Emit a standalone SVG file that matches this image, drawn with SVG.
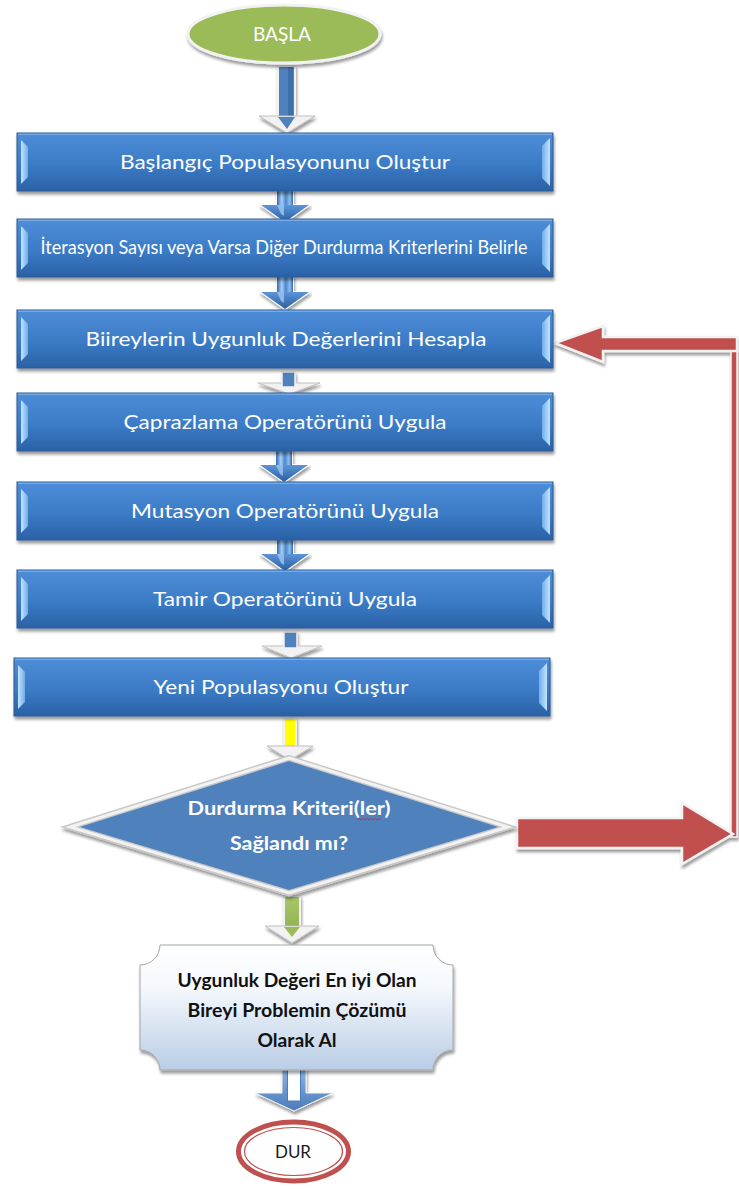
<svg xmlns="http://www.w3.org/2000/svg" width="739" height="1189" viewBox="0 0 739 1189">
<defs>
<style>
.bt{font-family:Lato,"Liberation Sans",sans-serif;fill:#ffffff;text-anchor:middle;font-size:19px}
.dt{font-family:Lato,"Liberation Sans",sans-serif;font-weight:bold;fill:#ffffff;text-anchor:middle;font-size:18px}
.pt{font-family:Lato,"Liberation Sans",sans-serif;font-weight:bold;fill:#111111;text-anchor:middle;font-size:18px}
.red{fill:#C0504D;stroke:#F2F2F2;stroke-width:2.5}
.chev{fill:#F2F2F2;stroke:#BFBFBF;stroke-width:1}
</style>
<linearGradient id="boxGrad" x1="0" y1="0" x2="0" y2="1">
<stop offset="0" stop-color="#4F8DD7"/><stop offset="0.55" stop-color="#3B7BC6"/><stop offset="1" stop-color="#2A61A6"/>
</linearGradient>
<linearGradient id="bevL" x1="0" y1="0" x2="1" y2="0"><stop offset="0" stop-color="#C4E4FF"/><stop offset="1" stop-color="#6FAEEA"/></linearGradient>
<linearGradient id="bevR" x1="1" y1="0" x2="0" y2="0"><stop offset="0" stop-color="#C4E4FF"/><stop offset="1" stop-color="#6FAEEA"/></linearGradient>
<linearGradient id="shaftGrad" x1="0" y1="0" x2="1" y2="0">
<stop offset="0" stop-color="#2E68B0"/><stop offset="0.3" stop-color="#A9D0F5"/><stop offset="0.55" stop-color="#4A86CC"/><stop offset="0.8" stop-color="#8FBFEF"/><stop offset="1" stop-color="#2E68B0"/>
</linearGradient>
<linearGradient id="headGrad" x1="0" y1="0" x2="0" y2="1"><stop offset="0" stop-color="#5C95D8"/><stop offset="1" stop-color="#2A5E9F"/></linearGradient>
<linearGradient id="plaqueGrad" x1="0" y1="0" x2="0" y2="1"><stop offset="0" stop-color="#FFFFFF"/><stop offset="0.35" stop-color="#F4F8FC"/><stop offset="1" stop-color="#B9CDE6"/></linearGradient>
<linearGradient id="greenGrad" x1="0" y1="0" x2="0" y2="1"><stop offset="0" stop-color="#A9C86A"/><stop offset="1" stop-color="#93B451"/></linearGradient>
<linearGradient id="hollowHead" x1="0" y1="0" x2="0" y2="1"><stop offset="0" stop-color="#8EB4E3"/><stop offset="1" stop-color="#4A7CBA"/></linearGradient>
<filter id="sh" x="-5%" y="-20%" width="110%" height="150%">
<feGaussianBlur in="SourceAlpha" stdDeviation="1.5"/><feOffset dx="1" dy="3"/><feComponentTransfer><feFuncA type="linear" slope="0.4"/></feComponentTransfer>
<feMerge><feMergeNode/><feMergeNode in="SourceGraphic"/></feMerge>
</filter>
<g id="box">
<rect x="0" y="0" width="536" height="58" fill="url(#boxGrad)" stroke="#2A5A93" stroke-width="1"/>
<line x1="1" y1="1.2" x2="535" y2="1.2" stroke="#86B8EE" stroke-width="1"/>
<polygon points="4,7 11,14 11,44 4,51" fill="url(#bevL)"/>
<polygon points="533,5 525,13 525,45 533,53" fill="url(#bevR)"/>
</g>
<g id="blueArrow">
<polygon points="-8,0 8,0 8,16 24,16 0,33 -24,16 -8,16" fill="none" stroke="#FFFFFF" stroke-width="2"/>
<rect x="-8" y="0" width="16" height="16" fill="url(#shaftGrad)"/>
<polygon points="-24,16 24,16 0,33" fill="url(#headGrad)"/>
<polygon points="-8,16 -1,16 -1,27 -4,25" fill="#9CC7F2" opacity="0.8"/>
</g>
</defs>

<g id="connectors">
<g filter="url(#sh)">
<rect x="278" y="66" width="17" height="51" fill="#4F81BD" stroke="#F2F2F2" stroke-width="2"/>
<rect x="288" y="67" width="5" height="49" fill="#3E6FA8"/>
<polygon points="259,116 315,116 287,133" class="chev"/>
<polygon points="278,117 295,117 287,129" fill="#4F81BD"/>
</g>
<use href="#blueArrow" x="285" y="189" filter="url(#sh)"/>
<use href="#blueArrow" x="285" y="276" filter="url(#sh)"/>
<g filter="url(#sh)">
<polygon points="258,383 320,383 289,394" class="chev"/>
<rect x="282" y="372" width="13" height="15" fill="#4F81BD" stroke="#F2F2F2" stroke-width="1.5"/>
</g>
<use href="#blueArrow" x="284" y="449" filter="url(#sh)"/>
<use href="#blueArrow" x="285" y="538" filter="url(#sh)"/>
<g filter="url(#sh)">
<polygon points="262,646 322,646 291,658" class="chev"/>
<rect x="284" y="632" width="13" height="16" fill="#4F81BD" stroke="#F2F2F2" stroke-width="1.5"/>
</g>
<g filter="url(#sh)">
<rect x="284" y="718" width="12" height="29" fill="#FFFF00" stroke="#F2F2F2" stroke-width="2"/>
<polygon points="267,746 313,746 290,760" class="chev"/>
</g>
<g filter="url(#sh)">
<rect x="284" y="896" width="16" height="31" fill="url(#greenGrad)" stroke="#F2F2F2" stroke-width="2"/>
<polygon points="265,926 319,926 292,943" class="chev"/>
<polygon points="284,927 300,927 292,937" fill="#9BBB59"/>
</g>
<g filter="url(#sh)">
<polygon points="282,1067 306,1067 306,1093 333,1093 294,1111 255,1093 282,1093" fill="url(#hollowHead)" stroke="#F2F2F2" stroke-width="1"/>
<rect x="287.5" y="1069" width="13" height="32" fill="#FFFFFF" stroke="#4A7CBA" stroke-width="1"/>
</g>
<g filter="url(#sh)">
<rect x="731" y="337" width="6" height="500" fill="#C0504D" stroke="#F2F2F2" stroke-width="1.5"/>
<polygon class="red" points="555,343 603,326 603,337 737,337 737,351 603,351 603,362"/>
<polygon class="red" points="517,818 682,818 682,803 733,834 682,864 682,848 517,848"/>
</g>
</g>

<g id="n0">
<ellipse cx="284" cy="34" rx="96" ry="29" fill="#9BBB59" stroke="#F2F2F2" stroke-width="3" filter="url(#sh)"/>
<text x="282" y="41" font-family="Lato,'Liberation Sans',sans-serif" font-size="20" fill="#FFFFFF" text-anchor="middle" textLength="58" lengthAdjust="spacingAndGlyphs">BAŞLA</text>
</g>

<g id="n1">
<use href="#box" x="17" y="133" filter="url(#sh)"/>
<text class="bt" x="285" y="169" textLength="330" lengthAdjust="spacingAndGlyphs">Başlangıç Populasyonunu Oluştur</text>
</g>
<g id="n2">
<use href="#box" x="17" y="219" filter="url(#sh)"/>
<text class="bt" x="284" y="254" font-size="16" textLength="487" lengthAdjust="spacingAndGlyphs">İterasyon Sayısı veya Varsa Diğer Durdurma Kriterlerini Belirle</text>
</g>
<g id="n3">
<use href="#box" x="17" y="310" filter="url(#sh)"/>
<text class="bt" x="286" y="346" textLength="401" lengthAdjust="spacingAndGlyphs">Biireylerin Uygunluk Değerlerini Hesapla</text>
</g>
<g id="n4">
<use href="#box" x="17" y="393" filter="url(#sh)"/>
<text class="bt" x="285" y="429" textLength="323" lengthAdjust="spacingAndGlyphs">Çaprazlama Operatörünü Uygula</text>
</g>
<g id="n5">
<use href="#box" x="17" y="482" filter="url(#sh)"/>
<text class="bt" x="285" y="518" textLength="308" lengthAdjust="spacingAndGlyphs">Mutasyon Operatörünü Uygula</text>
</g>
<g id="n6">
<use href="#box" x="17" y="570" filter="url(#sh)"/>
<text class="bt" x="285" y="606" textLength="264" lengthAdjust="spacingAndGlyphs">Tamir Operatörünü Uygula</text>
</g>
<g id="n7">
<use href="#box" x="14" y="658" filter="url(#sh)"/>
<text class="bt" x="281" y="694" textLength="255" lengthAdjust="spacingAndGlyphs">Yeni Populasyonu Oluştur</text>
</g>

<g id="n8">
<polygon points="289,758 508,827 289,893 70,827" fill="#4F81BD" stroke="#C8C8C8" stroke-width="6" filter="url(#sh)"/>
<polygon points="289,758 508,827 289,893 70,827" fill="none" stroke="#F2F2F2" stroke-width="3"/>
<text class="dt" x="289" y="815" textLength="203" lengthAdjust="spacingAndGlyphs">Durdurma Kriteri(ler)</text>
<text class="dt" x="289" y="850" textLength="118" lengthAdjust="spacingAndGlyphs">Sağlandı mı?</text>
<path d="M357,820 l2,-1.5 l2,1.5 l2,-1.5 l2,1.5 l2,-1.5 l2,1.5 l2,-1.5 l2,1.5 l2,-1.5 l2,1.5 l2,-1.5 l2,1.5" fill="none" stroke="#E02020" stroke-width="0.8"/>
</g>

<g id="n9">
<path d="M160,945 H433 A20,20 0 0 0 453,965 V1050 A20,20 0 0 0 433,1070 H160 A20,20 0 0 0 140,1050 V965 A20,20 0 0 0 160,945 Z" fill="url(#plaqueGrad)" stroke="#A6A6A6" stroke-width="1" filter="url(#sh)"/>
<text class="pt" x="297" y="987" textLength="239" lengthAdjust="spacingAndGlyphs">Uygunluk Değeri En iyi Olan</text>
<text class="pt" x="297" y="1017" textLength="219" lengthAdjust="spacingAndGlyphs">Bireyi Problemin Çözümü</text>
<text class="pt" x="297" y="1047" textLength="79" lengthAdjust="spacingAndGlyphs">Olarak Al</text>
</g>

<g id="n10">
<ellipse cx="293.5" cy="1151.5" rx="55" ry="29.5" fill="#FFFFFF" stroke="#C0504D" stroke-width="5"/>
<ellipse cx="293.5" cy="1151.5" rx="49" ry="24" fill="none" stroke="#C0504D" stroke-width="1.2"/>
<text x="293" y="1158" font-family="Lato,'Liberation Sans',sans-serif" font-size="18" fill="#1A1A1A" text-anchor="middle" textLength="36" lengthAdjust="spacingAndGlyphs">DUR</text>
</g>
</svg>
